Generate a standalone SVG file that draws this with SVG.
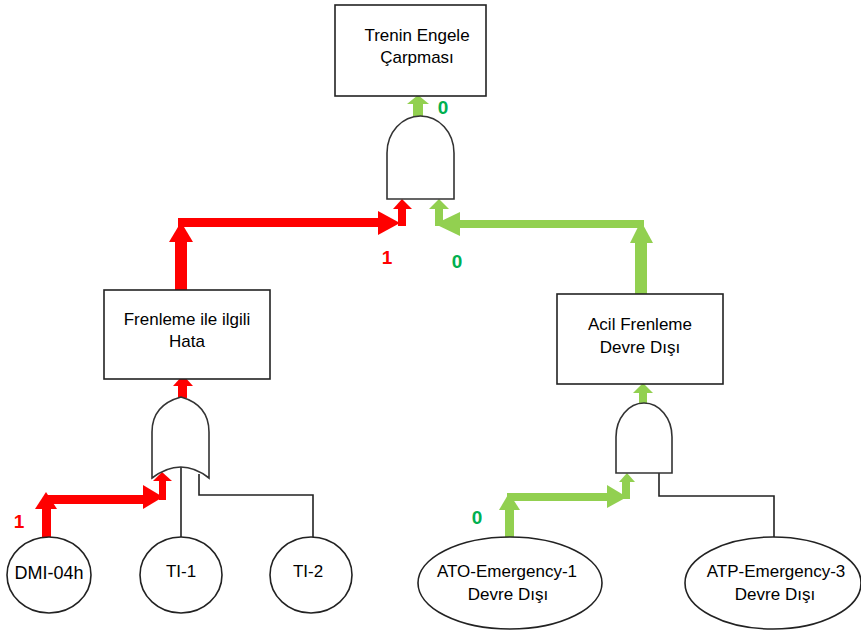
<svg xmlns="http://www.w3.org/2000/svg" width="861" height="634" viewBox="0 0 861 634">
<style>
.box{fill:#fff;stroke:#222;stroke-width:1.6}
.gate{fill:#fff;stroke:#333;stroke-width:1.6}
.wire{fill:none;stroke:#222;stroke-width:1.6}
.t{font-family:"Liberation Sans",Arial,sans-serif;font-size:17px;fill:#000;text-anchor:middle}
.n{font-family:"Liberation Sans",Arial,sans-serif;font-size:19px;font-weight:bold;text-anchor:middle}
.red{fill:#ff0000}
.grn{fill:#92d050}
</style>
<rect width="861" height="634" fill="#fff"/>
<g id="connectors">
  <path class="wire" d="M181,467 V537"/>
  <path class="wire" d="M199,474 V495 H313 V537"/>
  <path class="wire" d="M659,473 V496 H774 V537"/>
  <g class="red">
    <rect x="175" y="240" width="12" height="51"/>
    <polygon points="169,242 181,222 193,242"/>
    <rect x="178" y="218" width="202" height="9"/>
    <polygon points="378,211 400,223 378,235"/>
    <rect x="398" y="207" width="8" height="19"/>
    <polygon points="393,209 402,199 412,209"/>
    <rect x="178" y="385" width="9" height="13"/>
    <polygon points="173,386 183,375 193,386"/>
    <rect x="42" y="507" width="9" height="31"/>
    <polygon points="35,509 46,492 57,509"/>
    <rect x="44" y="495" width="101" height="9"/>
    <polygon points="143,485 163,497 143,509"/>
    <rect x="159" y="480" width="7" height="20"/>
    <polygon points="153,481 162,472 172,481"/>
  </g>
  <g class="grn">
    <rect x="413" y="102" width="10" height="16"/>
    <polygon points="407,104 418,95 429,104"/>
    <rect x="635" y="241" width="12" height="53"/>
    <polygon points="630,243 641,221 653,243"/>
    <rect x="458" y="220" width="186" height="8"/>
    <polygon points="460,212 435,224 460,236"/>
    <rect x="435" y="207" width="8" height="19"/>
    <polygon points="429,209 439,199 449,209"/>
    <rect x="639" y="392" width="8" height="12"/>
    <polygon points="633,393 643,383 653,393"/>
    <rect x="505" y="508" width="9" height="30"/>
    <polygon points="499,510 509,493 520,510"/>
    <rect x="507" y="493" width="102" height="8"/>
    <polygon points="607,485 627,497 607,508"/>
    <rect x="622" y="480" width="8" height="19"/>
    <polygon points="619,482 627,473 635,482"/>
  </g>
  <text class="n" x="443" y="114" fill="#00b050">0</text>
  <text class="n" x="387" y="264" fill="#ff0000">1</text>
  <text class="n" x="457" y="268" fill="#00b050">0</text>
  <text class="n" x="19" y="528" fill="#ff0000">1</text>
  <text class="n" x="477" y="524" fill="#00b050">0</text>
</g>
<g id="top">
  <rect class="box" x="335" y="5" width="151" height="91"/>
  <text class="t" x="417" y="41">Trenin Engele</text>
  <text class="t" x="417" y="63">Çarpması</text>
</g>
<g id="and-top">
  <path class="gate" d="M387,199 V153 A33.5,37 0 0 1 454,153 V199 Z"/>
</g>
<g id="frenleme">
  <rect class="box" x="104" y="290" width="166" height="89"/>
  <text class="t" x="187" y="325">Frenleme ile ilgili</text>
  <text class="t" x="187" y="347">Hata</text>
</g>
<g id="acil">
  <rect class="box" x="557" y="294" width="166" height="90"/>
  <text class="t" x="640" y="330">Acil Frenleme</text>
  <text class="t" x="640" y="353">Devre Dışı</text>
</g>
<g id="or-left">
  <path class="gate" d="M152,478 V432 Q152,405 181,397 Q209,405 209,432 V478 Q181,456 152,478 Z"/>
</g>
<g id="and-right">
  <path class="gate" d="M616,473 V437 A28,34 0 0 1 672,437 V473 Z"/>
</g>
<g id="dmi">
  <ellipse class="box" cx="49" cy="575" rx="42" ry="38"/>
  <text class="t" x="49" y="579" style="font-size:18px">DMI-04h</text>
</g>
<g id="ti1">
  <ellipse class="box" cx="181" cy="575" rx="41" ry="38"/>
  <text class="t" x="181" y="577">TI-1</text>
</g>
<g id="ti2">
  <ellipse class="box" cx="311" cy="575" rx="41" ry="38"/>
  <text class="t" x="308" y="577">TI-2</text>
</g>
<g id="ato">
  <ellipse class="box" cx="510" cy="583" rx="92" ry="46"/>
  <text class="t" x="507" y="577">ATO-Emergency-1</text>
  <text class="t" x="508" y="600">Devre Dışı</text>
</g>
<g id="atp">
  <ellipse class="box" cx="773" cy="583" rx="88" ry="46"/>
  <text class="t" x="776" y="577">ATP-Emergency-3</text>
  <text class="t" x="775" y="600">Devre Dışı</text>
</g>
</svg>
